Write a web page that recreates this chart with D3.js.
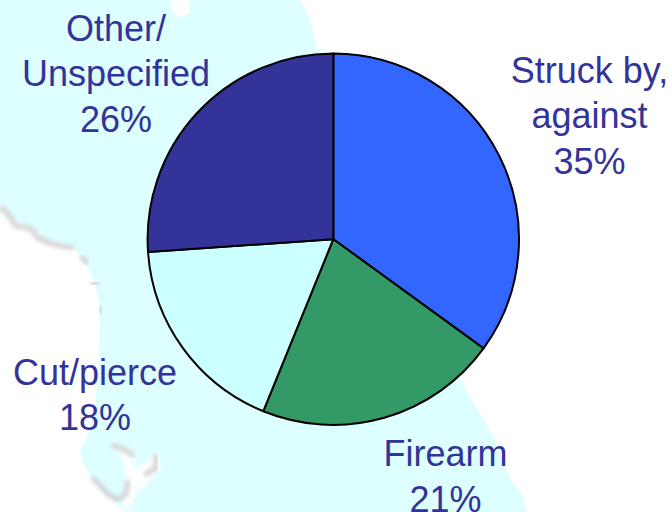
<!DOCTYPE html>
<html><head><meta charset="utf-8">
<script src="https://cdn.jsdelivr.net/npm/d3@7/dist/d3.min.js"></script>
<style>html,body{margin:0;padding:0;background:#fff}svg{display:block}</style>
</head><body><div id="chart"></div>
<script>
const categories = ["Struck by, against", "Firearm", "Cut/pierce", "Other/ Unspecified"];
const values = [35, 21.15, 17.75, 26.1];
const labelLines = [["Struck by,", "against", "35%"], ["Firearm", "21%"], ["Cut/pierce", "18%"], ["Other/", "Unspecified", "26%"]];
const colors = ["#3366FF", "#339966", "#CCFFFF", "#333399"];

const W = 672, H = 512, cx = 333.3, cy = 239.2, R = 185.7;
const labelAnchors = [[589.5, 82.5], [445.5, 466], [95, 384.5], [116, 40.5]];
const lineGap = 45.5, fontSize = 36;

const svg = d3.select("#chart").append("svg").attr("width", W).attr("height", H);
const defs = svg.append("defs");
defs.append("filter").attr("id", "soft").append("feGaussianBlur").attr("stdDeviation", 2);
defs.append("filter").attr("id", "softer").append("feGaussianBlur").attr("stdDeviation", 0.6);

// decorative map backdrop
const line = d3.line();
svg.append("rect").attr("width", W).attr("height", H).attr("fill", "#fff");
const sea = [[0,0],[300,0],[307,12],[313,30],[317,50],[340,60],[459,378],[469,396],[481,415],[493,436],[503,460],[510,478],[522,495],[526,512],
  [125,512],[115,503],[105,495],[92,478],[84,465],[80,452],[88,435],[95,405],[99,370],[99,330],[100,305],[92,275],[80,256],[72,246],[45,240],[32,228],[15,220],[0,204]];
const bg = svg.append("g");
bg.append("path").attr("d", line(sea) + "Z").attr("fill", "#DDFFFF").attr("filter", "url(#softer)");
bg.append("path").attr("d", line([[170,0],[190,0],[190,12],[180,18],[172,12]]) + "Z").attr("fill", "#fff").attr("filter", "url(#softer)");
bg.append("path").attr("d", line([[112,442],[130,450],[136,470],[158,452],[160,470],[150,480],[135,495],[128,512],[122,505],[126,480],[124,462]]) + "Z").attr("fill", "#fff").attr("filter", "url(#soft)");
const coast = [
  [[0,207],[8,214],[16,226],[30,228],[38,238],[52,244],[74,248]],
  [[80,256],[88,264]],[[90,283],[100,284]],[[100,306],[101,314]],
  [[111,444],[125,450],[134,456]],[[156,454],[156,468],[144,475]],
  [[92,477],[108,494],[118,500],[126,494],[128,480]]
];
bg.selectAll("path.coast").data(coast).join("path").attr("class", "coast")
  .attr("d", line).attr("fill", "none").attr("stroke", "#d2d2d2").attr("stroke-width", 5).attr("filter", "url(#soft)");

// pie
const pie = d3.pie().sort(null).value(d => d)(values);
const arc = d3.arc().innerRadius(0).outerRadius(R);
const color = d3.scaleOrdinal().domain(categories).range(colors);
svg.append("g").attr("transform", `translate(${cx},${cy})`)
  .selectAll("path").data(pie).join("path")
  .attr("d", arc).attr("fill", (d, i) => color(categories[i]))
  .attr("stroke", "#000").attr("stroke-width", 2).attr("stroke-linejoin", "round");

// labels
svg.append("g").selectAll("text").data(labelLines).join("text")
  .attr("font-family", "'Liberation Sans', Arial, sans-serif")
  .attr("font-size", fontSize).attr("fill", "#333399").attr("text-anchor", "middle")
  .each(function (lines, i) {
    d3.select(this).selectAll("tspan").data(lines).join("tspan")
      .attr("x", labelAnchors[i][0]).attr("y", (d, k) => labelAnchors[i][1] + k * lineGap).text(d => d);
  });
</script></body></html>
